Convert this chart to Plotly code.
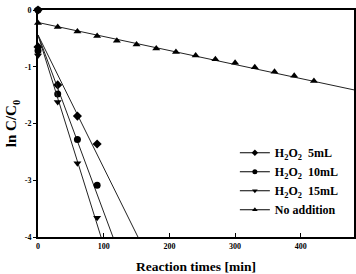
import plotly.graph_objects as go

# ---- data ----
t_h2o2 = [0, 0, 30, 60, 90]
y_5ml = [0, -0.65, -1.32, -1.87, -2.36]
y_10ml = [0, -0.72, -1.48, -2.28, -3.09]
y_15ml = [0, -0.80, -1.62, -2.70, -3.66]

t_none = [0, 30, 60, 90, 120, 150, 180, 210, 240, 270, 300, 330, 360, 390, 420]
y_none = [-0.23, -0.30, -0.38, -0.46, -0.54, -0.61, -0.68, -0.74, -0.80,
          -0.87, -0.93, -1.01, -1.09, -1.16, -1.25]

# linear fits: (intercept, slope)
fit_5ml = (-0.44, -0.0234)
fit_10ml = (-0.44, -0.0312)
fit_15ml = (-0.44, -0.0371)
fit_none = (-0.22, -0.00247)
fit_x = [0, 490]

x_ticks = [0, 100, 200, 300, 400]
y_ticks = [0, -1, -2, -3, -4]

names = ["H<sub>2</sub>O<sub>2</sub>  5mL", "H<sub>2</sub>O<sub>2</sub>  10mL",
         "H<sub>2</sub>O<sub>2</sub>  15mL", "No addition"]
symbols = ["diamond", "circle", "triangle-down", "triangle-up"]

FONT = "Liberation Serif, Times New Roman, serif"
series = [(t_h2o2, y_5ml, fit_5ml), (t_h2o2, y_10ml, fit_10ml),
          (t_h2o2, y_15ml, fit_15ml), (t_none, y_none, fit_none)]

fig = go.Figure()
for (tx, ty, (b, m)), name, sym in zip(series, names, symbols):
    fig.add_trace(go.Scatter(
        x=fit_x, y=[b + m * v for v in fit_x], mode="lines",
        line=dict(color="#222", width=1), showlegend=False, hoverinfo="skip"))
    fig.add_trace(go.Scatter(
        x=tx, y=ty, mode="markers", name=name,
        marker=dict(symbol=sym, size=7, color="black"),
        showlegend=False, cliponaxis=False))
    # legend proxy
    fig.add_trace(go.Scatter(
        x=[None], y=[None], mode="lines+markers", name="<b>" + name + "</b>",
        line=dict(color="black", width=1),
        marker=dict(symbol=sym, size=5, color="black")))

fig.update_layout(
    width=356, height=274,
    margin=dict(l=38, r=2, t=10, b=37, autoexpand=False),
    paper_bgcolor="white", plot_bgcolor="white",
    font=dict(family=FONT, color="black", size=8),
    legend=dict(x=0.623, y=0.435, xanchor="left", yanchor="top",
                font=dict(family=FONT, size=12, color="black"),
                bgcolor="rgba(0,0,0,0)", itemwidth=30, tracegroupgap=0),
    xaxis=dict(range=[0, 481], tickvals=x_ticks,
               ticktext=["<b>%d</b>" % v for v in x_ticks],
               ticks="inside", ticklen=4, tickwidth=1, tickcolor="black",
               showline=True, linecolor="black", linewidth=2, mirror=True,
               showgrid=False, zeroline=False,
               tickfont=dict(family=FONT, size=8),
               title=dict(text="<b>Reaction times [min]</b>", standoff=12,
                          font=dict(family=FONT, size=13.5))),
    yaxis=dict(range=[-4, 0], tickvals=y_ticks,
               ticktext=["<b>%d</b>" % v for v in y_ticks],
               ticks="outside", ticklen=3, tickwidth=1, tickcolor="black",
               showline=True, linecolor="black", linewidth=2, mirror=True,
               showgrid=False, zeroline=False,
               tickfont=dict(family=FONT, size=8),
               title=dict(text="<b>ln C/C<sub>0</sub></b>", standoff=4,
                          font=dict(family=FONT, size=15))),
)

fig.write_html("out.html")
